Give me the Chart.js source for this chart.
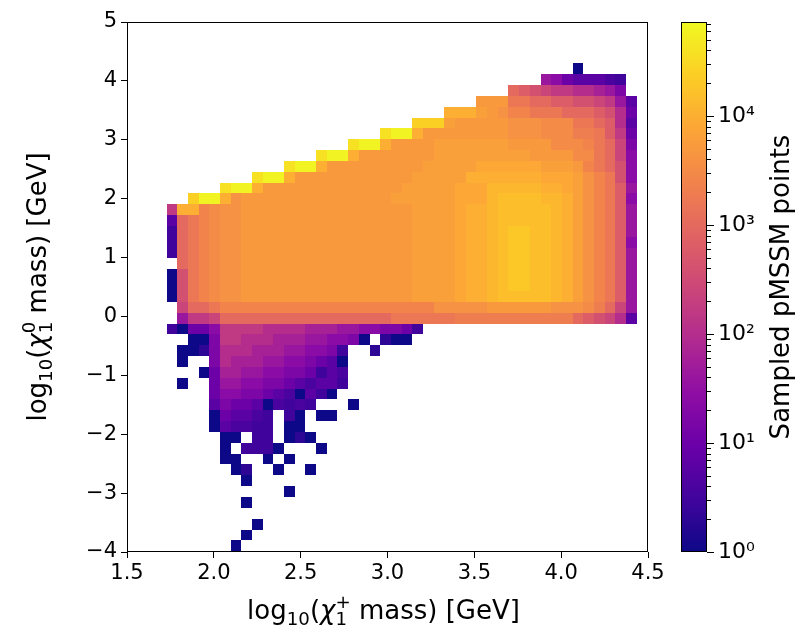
<!DOCTYPE html>
<html><head><meta charset="utf-8">
<script src="https://cdn.jsdelivr.net/npm/chart.js@4.4.0/dist/chart.umd.min.js"></script>
<style>
html,body{margin:0;padding:0;background:#fff;}
#wrap{position:relative;width:806px;height:638px;}
canvas{position:absolute;left:0;top:0;}
</style></head><body>
<div id="wrap"><canvas id="main" width="806" height="638"></canvas><canvas id="cbar" width="806" height="638"></canvas></div>
<script>
// ---------------- data ----------------
const xTickValues = [1.5, 2.0, 2.5, 3.0, 3.5, 4.0, 4.5];
const yTickValues = [-4, -3, -2, -1, 0, 1, 2, 3, 4, 5];
const cbarTickValues = [1, 10, 100, 1000, 10000];
const countMax = 73000;            // top of colour bar
const xBinStart = 1.7275, xBinWidth = 0.06153, nCols = 44;
const yBinTop = 4.298, yBinHeight = 0.1841;
// letter = log10(count): lowercase a..z = 0,0.2,...,5.0 ; uppercase = lowercase + 0.1 ; '.' = empty bin
const levelLetters = 'abcdefghijklmnopqrstuvwxyz';
// rows from the top bin (y ~ 4.2) downwards: [first column, cell letters]
const cellRows = [
  [38, 'a'],
  [35, 'ihfeeedc'],
  [32, 'ponmllkkjig'],
  [29, ['SSS','qq','pp','oo','nn','m','l','i','e'].join('')],
  [26, ['uuu','t','S','s','rr','qqq','ppp','o','n','k','f'].join('')],
  [23, ['www','t','SSSSS','sss','RRR','qq','p','o','k','e'].join('')],
  [20, ['xyy','u','SSSSSSSS','sss','RRR','QQ','q','o','l','f'].join('')],
  [17, ['xyy','u','SSSS','ttttttt','SSSS','RRR','r','q','p','m','g'].join('')],
  [14, ['xyy','u','SSSSSSS','ttttttttt','SSSS','RR','q','p','m','h'].join('')],
  [11, ['xyy','u','SSSSSSSSS','ttttt','TTTTTT','ttt','S','r','q','p','n','h'].join('')],
  [8,  ['xyy','u','SSSSSS'+'SSSSS','ttttt','uuuuuuu','TTT','t','s','r','q','n','h'].join('')],
  [5,  ['xyy','u','SSSSSSS'+'SSSSSS','ttttt','TTT','UUUUU','uu','T','t','s','r','q','o','i'].join('')],
  [2,  ['wyy','u','s','SSSSSSS'+'SSSSSSS','tttttt','TTT','U','vvvv','UU','u','t','s','r','q','o','h'].join('')],
  [0,  ['l','uu','r','R','ss','SSSSSSSS'+'SSSSSSSS','tttt','T','uu','U','vvvv','v','U','u','t','s','r','q','o','i'].join('')],
  [0,  ['e','p','q','r','R','ss','SSSSSSSS'+'SSSSSSSS','tttt','T','uu','U','vvvv','v','U','u','t','s','r','q','o','i'].join('')],
  [0,  ['c','p','q','r','R','ss','SSSSSSSS'+'SSSSSSSS','tttt','T','uu','U','vVVv','v','U','u','t','s','r','q','o','i'].join('')],
  [0,  ['c','p','q','r','R','ss','SSSSSSSS'+'SSSSSSSS','tttt','T','uu','U','vVVv','v','U','u','t','s','r','q','o','h'].join('')],
  [0,  ['c','p','q','r','R','ss','SSSSSSSS'+'SSSSSSSS','tttt','T','uu','U','vVVv','v','U','u','t','s','r','q','o','i'].join('')],
  [0,  ['.','p','q','r','R','ss','SSSSSSSS'+'SSSSSSSS','tttt','T','uu','U','vVVv','v','U','u','t','s','r','q','o','i'].join('')],
  [0,  ['a','n','q','r','R','ss','SSSSSSSS'+'SSSSSSSS','tttt','T','uu','U','vVVv','v','U','u','t','s','r','q','o','i'].join('')],
  [0,  ['a','n','q','r','R','ss','SSSSSSSS'+'SSSSSSSS','tttt','T','uu','U','vVVv','v','U','u','t','s','r','q','o','i'].join('')],
  [0,  ['a','n','q','r','R','ss','SSSSSSSS'+'SSSSSSSS','tttt','T','uu','U','vvvv','v','U','u','t','s','r','q','o','i'].join('')],
  [0,  ['.','m','pp','q','rrrrrrrrrr'+'rrrrrrrrrr','sssss','SSSSSS','sss','R','Q','p','m','i'].join('')],
  [0,  ['.','i','ll','m','pppppppp'+'pppppppp','qqqqqq','QQQQQQ'+'QQQQQ','p','o','n','m','k','e'].join('')],
  [0,  'caffhllllkkkkjjjiihhggfc'],
  [0,  '..aagllkkkjjjiihhga.baa'],
  [0,  '.aabgkkkjjjiihhgc..b'],
  [0,  '.a..gkjjjiihhgfea'],
  [0,  '...afjjiihhggfced'],
  [0,  '.a..fiihhggfedeec'],
  [0,  '....fhhggfedaeca'],
  [0,  '....egffeadcdc...a'],
  [0,  '....afeedc.ca.aa'],
  [0,  '....aeddcc.aa'],
  [0,  '.....aa.cc.aba'],
  [0,  '.....a.ccca...a'],
  [0,  '.....aa..a.a'],
  [0,  '......ab..a..a'],
  [0,  '.......a'],
  [0,  '...........a'],
  [0,  '.......a'],
  [0,  ''],
  [0,  '........a'],
  [0,  '.......a'],
  [0,  '......a']
];

// ------------- build cells ---------------
function letterLog(ch) {
  const lo = levelLetters.indexOf(ch);
  if (lo >= 0) return lo * 0.2;
  const up = levelLetters.indexOf(ch.toLowerCase());
  if (up >= 0) return up * 0.2 + 0.1;
  return null;
}
const cells = [];
cellRows.forEach((row, r) => {
  const [start, letters] = row;
  for (let k = 0; k < letters.length; k++) {
    const c = start + k;
    const lg = letterLog(letters[k]);
    if (lg === null || c >= nCols) continue;
    const x0 = xBinStart + c * xBinWidth, x1 = x0 + xBinWidth;
    const y1 = yBinTop - r * yBinHeight, y0 = y1 - yBinHeight;
    cells.push({x: (x0 + x1) / 2, y: (y0 + y1) / 2, x0, x1, y0, y1, v: Math.round(Math.pow(10, lg))});
  }
});

// plasma colormap
const plasmaStops = ['#0d0887','#41049d','#6a00a8','#8f0da4','#b12a90','#cc4778','#e16462','#f2844b','#fca636','#fcce25','#f0f921'];
const plasmaRGB = plasmaStops.map(h => [1,3,5].map(i => parseInt(h.substr(i,2),16)));
function plasma(t) {
  t = Math.max(0, Math.min(1, t));
  const f = t * 10, i = Math.min(9, Math.floor(f)), u = f - i;
  const a = plasmaRGB[i], b = plasmaRGB[i+1];
  return 'rgb(' + a.map((v,j) => Math.round(v + (b[j]-v)*u)).join(',') + ')';
}
const logMax = Math.log10(countMax);
const FONT = '"DejaVu Sans"';
const FS = 21, TS = 26;

function drawRich(ctx, parts, cx, cy, rot, size) {
  ctx.save();
  ctx.translate(cx, cy); ctx.rotate(rot);
  let w = 0, lastStart = 0; const pieces = [];
  for (const [t, k] of parts) {
    const fs = (k === 'sub' || k === 'sup' || k === 'stk') ? size * 0.7 : size;
    const font = (k === 'i' ? 'italic ' : '') + fs + 'px ' + FONT;
    ctx.font = font;
    const tw = ctx.measureText(t).width;
    let x;
    if (k === 'stk') { x = lastStart; w = Math.max(w, lastStart + tw); }
    else { x = w; lastStart = w; w += tw; }
    const dy = k === 'sub' ? size * 0.24 : (k === 'sup' || k === 'stk') ? -size * 0.42 : 0;
    pieces.push({t, font, x, dy});
  }
  ctx.fillStyle = '#000'; ctx.textAlign = 'left'; ctx.textBaseline = 'alphabetic';
  for (const p of pieces) { ctx.font = p.font; ctx.fillText(p.t, p.x - w / 2, p.dy); }
  ctx.restore();
}

const heatmapPlugin = {
  id: 'heatmap',
  beforeDatasetsDraw(chart) {
    const {ctx, chartArea: a, scales: {x, y}} = chart;
    ctx.save();
    ctx.beginPath(); ctx.rect(a.left, a.top, a.width, a.height); ctx.clip();
    for (const c of chart.data.datasets[0].data) {
      const px0 = Math.round(x.getPixelForValue(c.x0)), px1 = Math.round(x.getPixelForValue(c.x1));
      const py0 = Math.round(y.getPixelForValue(c.y0)), py1 = Math.round(y.getPixelForValue(c.y1));
      ctx.fillStyle = plasma(Math.log10(c.v) / logMax);
      ctx.fillRect(px0, py1, px1 - px0, py0 - py1);
    }
    ctx.restore();
  },
  afterDraw(chart) {
    const {ctx, chartArea: a} = chart;
    ctx.save();
    ctx.strokeStyle = '#000'; ctx.lineWidth = 1;
    ctx.strokeRect(Math.round(a.left) + 0.5, Math.round(a.top) + 0.5, Math.round(a.width) - 1, Math.round(a.height) - 1);
    ctx.restore();
    drawRich(ctx, [['log','n'],['10','sub'],['(','n'],['\u03c7','i'],['1','sub'],['+','stk'],[' mass) [GeV]','n']],
             (a.left + a.right) / 2 - 4, 619, 0, TS);
    drawRich(ctx, [['log','n'],['10','sub'],['(','n'],['\u03c7','i'],['1','sub'],['0','stk'],[' mass) [GeV]','n']],
             46, (a.top + a.bottom) / 2, -Math.PI / 2, TS);
  }
};

new Chart(document.getElementById('main'), {
  type: 'scatter',
  data: {datasets: [{data: cells, pointRadius: 0, pointHoverRadius: 0}]},
  options: {
    responsive: false, animation: false, events: [],
    layout: {padding: {left: 0, top: 22, right: 158, bottom: 0}},
    plugins: {legend: {display: false}, tooltip: {enabled: false}},
    scales: {
      x: {
        type: 'linear', min: 1.5, max: 4.5,
        afterBuildTicks: s => { s.ticks = xTickValues.map(v => ({value: v})); },
        afterFit: s => { s.height = 86; },
        ticks: {callback: v => v.toFixed(1), font: {family: 'DejaVu Sans', size: FS}, color: '#000', padding: 3, maxRotation: 0, autoSkip: false},
        grid: {display: true, drawOnChartArea: false, drawTicks: true, tickLength: 6, color: '#000'},
        border: {display: false}
      },
      y: {
        type: 'linear', min: -4, max: 5,
        afterBuildTicks: s => { s.ticks = yTickValues.map(v => ({value: v})); },
        afterFit: s => { s.width = 127; },
        ticks: {callback: v => (v < 0 ? '\u2212' + Math.abs(v) : String(v)), font: {family: 'DejaVu Sans', size: FS}, color: '#000', padding: 4, autoSkip: false},
        grid: {display: true, drawOnChartArea: false, drawTicks: true, tickLength: 6, color: '#000'},
        border: {display: false}
      }
    }
  },
  plugins: [heatmapPlugin]
});

// ---------------- colour bar ----------------
const supDigits = ['\u2070','\u00b9','\u00b2','\u00b3','\u2074'];
const cbarPlugin = {
  id: 'cbarPlugin',
  beforeDatasetsDraw(chart) {
    const {ctx, chartArea: a, scales: {y}} = chart;
    ctx.save();
    for (let py = Math.round(a.top); py < Math.round(a.bottom); py++) {
      const v = y.getValueForPixel(py + 0.5);
      ctx.fillStyle = plasma(Math.log10(v) / logMax);
      ctx.fillRect(Math.round(a.left), py, Math.round(a.right) - Math.round(a.left), 1);
    }
    ctx.restore();
  },
  afterDraw(chart) {
    const {ctx, chartArea: a, scales: {y}} = chart;
    ctx.save();
    ctx.strokeStyle = '#000'; ctx.lineWidth = 1;
    ctx.strokeRect(Math.round(a.left) + 0.5, Math.round(a.top) + 0.5, Math.round(a.width) - 1, Math.round(a.height) - 1);
    ctx.beginPath();
    for (let k = 0; k < 5; k++) for (let m = 2; m <= 9; m++) {
      const v = m * Math.pow(10, k);
      if (v > countMax) continue;
      const py = Math.round(y.getPixelForValue(v)) + 0.5;
      ctx.moveTo(Math.round(a.right), py); ctx.lineTo(Math.round(a.right) + 4, py);
    }
    ctx.stroke();
    ctx.translate(789, (a.top + a.bottom) / 2); ctx.rotate(-Math.PI / 2);
    ctx.font = TS + 'px ' + FONT; ctx.fillStyle = '#000'; ctx.textAlign = 'center'; ctx.textBaseline = 'alphabetic';
    ctx.fillText('Sampled pMSSM points', 0, 0);
    ctx.restore();
  }
};

new Chart(document.getElementById('cbar'), {
  type: 'scatter',
  data: {datasets: [{data: []}]},
  options: {
    responsive: false, animation: false, events: [],
    layout: {padding: {left: 681, top: 22, right: 0, bottom: 86}},
    plugins: {legend: {display: false}, tooltip: {enabled: false}},
    scales: {
      x: {display: false},
      y: {
        type: 'logarithmic', position: 'right', min: 1, max: countMax,
        afterBuildTicks: s => { s.ticks = cbarTickValues.map(v => ({value: v})); },
        afterFit: s => { s.width = 99; },
        ticks: {callback: v => '10' + supDigits[Math.round(Math.log10(v))], font: {family: 'DejaVu Sans', size: FS + 1}, color: '#000', padding: 4, autoSkip: false},
        grid: {display: true, drawOnChartArea: false, drawTicks: true, tickLength: 7, color: '#000'},
        border: {display: false}
      }
    }
  },
  plugins: [cbarPlugin]
});
</script>
</body></html>
